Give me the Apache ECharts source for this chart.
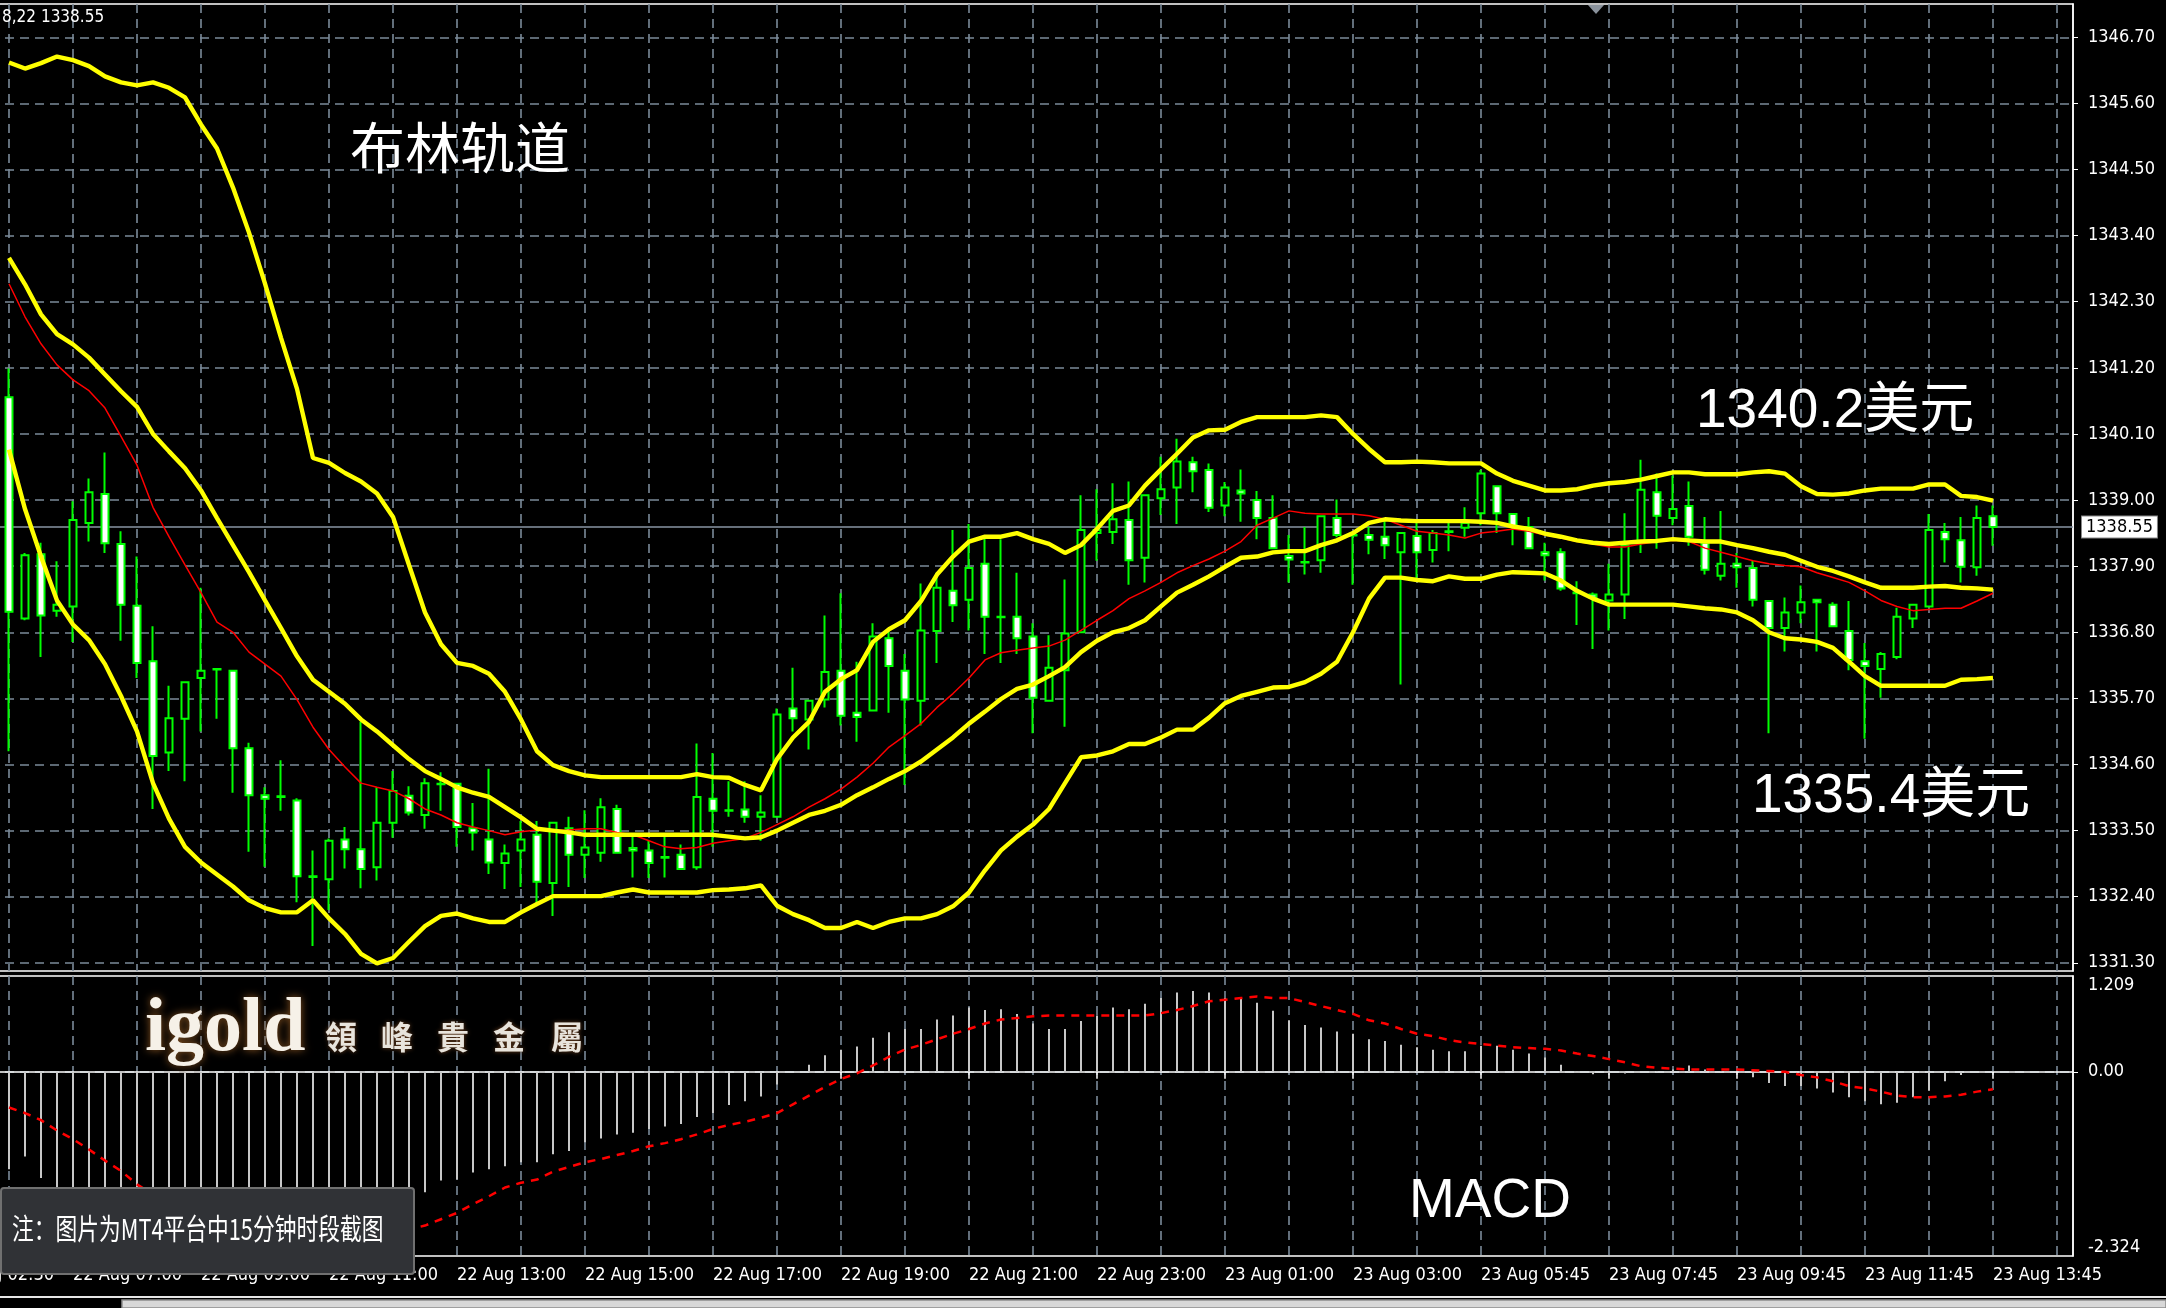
<!DOCTYPE html>
<html><head><meta charset="utf-8">
<script src="https://cdn.jsdelivr.net/npm/echarts@6/dist/echarts.min.js"></script>
<style>html,body{margin:0;padding:0;background:#000;}#c{width:2166px;height:1308px;}</style>
</head><body><div id="c"></div>
<script>
// ---------- data (15-minute bars, 22 Aug 07:00 tick at bar 4, last bar 23 Aug 13:45) ----------
const tickLabels = ['22 Aug 02:30','22 Aug 07:00','22 Aug 09:00','22 Aug 11:00','22 Aug 13:00','22 Aug 15:00','22 Aug 17:00','22 Aug 19:00','22 Aug 21:00','22 Aug 23:00','23 Aug 01:00','23 Aug 03:00','23 Aug 05:45','23 Aug 07:45','23 Aug 09:45','23 Aug 11:45','23 Aug 13:45'];
const priceTicks = [1331.30,1332.40,1333.50,1334.60,1335.70,1336.80,1337.90,1339.00,1340.10,1341.20,1342.30,1343.40,1344.50,1345.60,1346.70];
const macdTicks = [-2.324, 0, 1.209];

const opens = [1340.71,1337.03,1338.10,1337.16,1337.23,1338.62,1339.10,1338.27,1337.24,1336.32,1334.80,1335.36,1336.04,1336.18,1336.16,1334.87,1334.09,1334.07,1334.00,1332.73,1332.69,1333.35,1333.19,1332.89,1333.63,1334.08,1333.76,1334.27,1334.28,1333.54,1333.35,1332.96,1333.17,1333.43,1332.63,1333.54,1333.10,1333.13,1333.86,1333.21,1333.17,1333.06,1333.10,1332.89,1334.03,1333.83,1333.85,1333.73,1333.73,1335.53,1335.35,1335.68,1336.16,1335.46,1335.50,1336.70,1336.16,1335.66,1336.82,1337.49,1337.34,1337.94,1337.06,1337.06,1336.73,1335.66,1336.17,1336.80,1338.45,1338.47,1338.67,1338.04,1339.03,1339.21,1339.63,1339.50,1338.91,1339.16,1339.00,1338.70,1338.07,1337.97,1338.00,1338.70,1338.42,1338.42,1338.39,1338.13,1338.40,1338.17,1338.47,1338.54,1338.78,1339.23,1338.77,1338.55,1338.13,1338.13,1337.46,1337.43,1337.33,1337.43,1338.31,1339.13,1338.70,1338.90,1338.29,1337.74,1337.94,1337.87,1337.32,1336.87,1337.13,1337.34,1337.26,1336.82,1336.32,1336.19,1336.39,1337.03,1337.23,1338.47,1338.33,1337.88,1338.73];
const closes = [1337.14,1338.08,1337.08,1337.26,1338.67,1339.13,1338.28,1337.26,1336.29,1334.74,1335.37,1335.97,1336.16,1336.19,1334.87,1334.09,1334.03,1334.06,1332.74,1332.74,1333.33,1333.19,1332.86,1333.63,1334.16,1333.80,1334.29,1334.28,1333.56,1333.47,1332.97,1333.12,1333.35,1332.65,1333.63,1333.10,1333.22,1333.89,1333.13,1333.17,1332.96,1333.05,1332.86,1334.06,1333.83,1333.84,1333.73,1333.80,1335.43,1335.37,1335.66,1336.14,1335.41,1335.39,1336.73,1336.24,1335.68,1336.83,1337.54,1337.25,1337.87,1337.06,1337.05,1336.70,1335.71,1336.21,1336.78,1338.50,1338.50,1338.68,1338.00,1339.08,1339.18,1339.64,1339.48,1338.87,1339.21,1339.11,1338.70,1338.20,1338.01,1337.96,1338.73,1338.42,1338.41,1338.34,1338.25,1338.45,1338.13,1338.45,1338.48,1338.62,1339.44,1338.78,1338.55,1338.20,1338.08,1337.53,1337.45,1337.38,1337.43,1338.24,1339.17,1338.74,1338.85,1338.39,1337.84,1337.94,1337.88,1337.34,1336.87,1337.13,1337.30,1337.30,1336.90,1336.34,1336.24,1336.44,1337.06,1337.26,1338.50,1338.35,1337.89,1338.70,1338.55];
const lows = [1334.82,1337.00,1336.39,1337.06,1336.64,1338.31,1338.12,1336.66,1336.04,1333.86,1334.49,1334.32,1335.15,1335.36,1334.13,1333.15,1332.90,1333.83,1332.31,1331.58,1332.18,1332.87,1332.54,1332.67,1333.38,1333.75,1333.53,1333.83,1333.23,1333.17,1332.78,1332.53,1332.56,1332.28,1332.08,1332.56,1332.71,1332.98,1333.12,1332.72,1332.71,1332.72,1332.85,1332.85,1333.23,1333.73,1333.63,1333.33,1333.72,1335.15,1334.85,1335.55,1335.25,1334.98,1335.48,1335.46,1334.26,1335.25,1336.29,1336.97,1336.83,1336.44,1336.29,1336.44,1335.12,1335.65,1335.23,1336.79,1337.99,1338.27,1337.59,1337.63,1338.75,1338.60,1339.13,1338.80,1338.73,1338.64,1338.35,1338.19,1337.63,1337.76,1337.79,1338.38,1337.59,1338.10,1338.02,1335.93,1337.69,1337.96,1338.15,1338.39,1338.58,1338.45,1338.25,1338.19,1337.66,1337.49,1336.92,1336.52,1336.83,1337.02,1338.12,1338.19,1338.58,1338.24,1337.76,1337.66,1337.54,1337.23,1335.12,1336.48,1336.95,1336.48,1336.89,1336.17,1335.03,1335.71,1336.35,1336.87,1337.22,1337.96,1337.63,1337.74,1338.24];
const highs = [1341.19,1338.12,1338.29,1337.98,1338.98,1339.36,1339.79,1338.48,1338.06,1336.90,1335.91,1335.97,1337.54,1336.19,1336.16,1334.96,1334.22,1334.67,1334.04,1333.17,1333.37,1333.56,1335.31,1334.22,1334.49,1334.24,1334.37,1334.47,1334.28,1333.96,1334.53,1333.27,1333.66,1333.66,1333.63,1333.73,1333.84,1334.04,1333.93,1333.40,1333.33,1333.40,1333.27,1334.95,1334.79,1334.32,1334.32,1334.09,1335.53,1336.21,1335.66,1337.08,1337.45,1336.31,1336.95,1336.83,1336.44,1337.61,1337.79,1338.50,1338.60,1338.39,1338.35,1337.79,1336.95,1336.75,1337.68,1339.08,1339.18,1339.28,1339.31,1339.08,1339.72,1340.02,1339.72,1339.61,1339.30,1339.51,1339.15,1339.08,1338.42,1338.55,1338.73,1339.01,1338.45,1338.55,1338.65,1338.45,1338.62,1338.50,1338.65,1338.88,1339.50,1339.23,1338.77,1338.72,1338.29,1338.20,1337.65,1337.46,1337.94,1338.78,1339.67,1339.44,1339.41,1339.31,1338.72,1338.82,1338.12,1337.99,1337.32,1337.38,1337.58,1337.34,1337.30,1337.32,1336.62,1336.47,1337.21,1337.27,1338.77,1338.62,1338.72,1338.91,1338.91];

const bollUpper = [1346.28,1346.18,1346.27,1346.38,1346.32,1346.22,1346.05,1345.95,1345.90,1345.95,1345.86,1345.70,1345.25,1344.85,1344.20,1343.45,1342.60,1341.70,1340.85,1339.70,1339.62,1339.45,1339.31,1339.11,1338.72,1337.92,1337.13,1336.60,1336.29,1336.24,1336.11,1335.81,1335.35,1334.82,1334.59,1334.49,1334.42,1334.39,1334.39,1334.39,1334.39,1334.39,1334.39,1334.44,1334.39,1334.38,1334.26,1334.17,1334.69,1335.05,1335.31,1335.81,1336.02,1336.17,1336.64,1336.85,1337.00,1337.32,1337.76,1338.06,1338.31,1338.39,1338.39,1338.45,1338.35,1338.27,1338.12,1338.25,1338.52,1338.82,1338.91,1339.24,1339.51,1339.77,1340.04,1340.16,1340.17,1340.30,1340.38,1340.38,1340.38,1340.38,1340.41,1340.38,1340.10,1339.85,1339.63,1339.63,1339.64,1339.63,1339.61,1339.61,1339.61,1339.44,1339.32,1339.24,1339.16,1339.16,1339.18,1339.24,1339.28,1339.30,1339.34,1339.40,1339.46,1339.46,1339.43,1339.43,1339.43,1339.46,1339.48,1339.44,1339.23,1339.10,1339.09,1339.11,1339.16,1339.19,1339.19,1339.19,1339.26,1339.26,1339.07,1339.05,1338.99];
const bollMiddle = [1343.03,1342.59,1342.09,1341.76,1341.59,1341.37,1341.09,1340.81,1340.55,1340.10,1339.81,1339.53,1339.16,1338.70,1338.25,1337.80,1337.33,1336.87,1336.40,1336.01,1335.81,1335.61,1335.35,1335.15,1334.92,1334.69,1334.49,1334.36,1334.22,1334.13,1334.06,1333.89,1333.72,1333.53,1333.50,1333.47,1333.43,1333.43,1333.43,1333.43,1333.43,1333.43,1333.43,1333.43,1333.43,1333.40,1333.37,1333.39,1333.50,1333.63,1333.76,1333.83,1333.93,1334.09,1334.22,1334.36,1334.49,1334.65,1334.85,1335.05,1335.28,1335.48,1335.69,1335.86,1335.93,1336.07,1336.22,1336.47,1336.66,1336.80,1336.87,1337.00,1337.23,1337.46,1337.59,1337.73,1337.89,1338.04,1338.06,1338.13,1338.15,1338.15,1338.25,1338.33,1338.45,1338.62,1338.68,1338.66,1338.65,1338.65,1338.65,1338.65,1338.64,1338.62,1338.56,1338.52,1338.44,1338.39,1338.33,1338.29,1338.27,1338.29,1338.31,1338.32,1338.35,1338.33,1338.31,1338.31,1338.25,1338.20,1338.14,1338.09,1337.99,1337.89,1337.82,1337.73,1337.63,1337.54,1337.54,1337.54,1337.56,1337.57,1337.54,1337.53,1337.51];
const bollLower = [1339.84,1338.85,1338.06,1337.33,1336.93,1336.67,1336.27,1335.74,1335.15,1334.29,1333.70,1333.23,1332.97,1332.77,1332.57,1332.34,1332.21,1332.14,1332.14,1332.34,1332.04,1331.78,1331.45,1331.29,1331.38,1331.65,1331.91,1332.08,1332.12,1332.04,1331.98,1331.98,1332.14,1332.28,1332.41,1332.41,1332.41,1332.41,1332.47,1332.52,1332.47,1332.47,1332.47,1332.47,1332.51,1332.52,1332.54,1332.59,1332.25,1332.11,1332.01,1331.88,1331.88,1331.98,1331.88,1331.98,1332.04,1332.04,1332.11,1332.24,1332.47,1332.84,1333.17,1333.40,1333.60,1333.86,1334.29,1334.72,1334.75,1334.82,1334.94,1334.94,1335.05,1335.18,1335.18,1335.38,1335.62,1335.74,1335.81,1335.88,1335.89,1335.97,1336.11,1336.31,1336.80,1337.36,1337.71,1337.71,1337.67,1337.65,1337.73,1337.69,1337.69,1337.76,1337.80,1337.79,1337.78,1337.66,1337.49,1337.36,1337.26,1337.26,1337.26,1337.26,1337.26,1337.23,1337.20,1337.18,1337.13,1337.00,1336.80,1336.70,1336.68,1336.64,1336.54,1336.31,1336.07,1335.91,1335.91,1335.91,1335.91,1335.91,1336.01,1336.02,1336.04];
const redMA = [1342.60,1342.05,1341.60,1341.25,1341.00,1340.82,1340.53,1340.06,1339.58,1338.88,1338.39,1337.92,1337.46,1336.97,1336.80,1336.47,1336.27,1336.07,1335.68,1335.22,1334.85,1334.56,1334.29,1334.22,1334.16,1334.03,1333.86,1333.76,1333.63,1333.56,1333.50,1333.43,1333.48,1333.51,1333.50,1333.51,1333.53,1333.53,1333.47,1333.43,1333.33,1333.23,1333.20,1333.22,1333.29,1333.33,1333.37,1333.47,1333.60,1333.73,1333.89,1334.03,1334.19,1334.39,1334.62,1334.89,1335.08,1335.28,1335.55,1335.78,1336.04,1336.34,1336.46,1336.50,1336.54,1336.57,1336.67,1336.83,1337.00,1337.16,1337.36,1337.49,1337.63,1337.79,1337.91,1338.02,1338.15,1338.31,1338.58,1338.70,1338.82,1338.78,1338.77,1338.77,1338.77,1338.74,1338.68,1338.58,1338.48,1338.45,1338.42,1338.37,1338.45,1338.48,1338.52,1338.48,1338.42,1338.37,1338.31,1338.27,1338.22,1338.22,1338.27,1338.31,1338.33,1338.31,1338.20,1338.13,1338.06,1337.99,1337.94,1337.91,1337.89,1337.79,1337.71,1337.63,1337.49,1337.33,1337.23,1337.16,1337.18,1337.20,1337.20,1337.32,1337.45];

const macdHist = [-1.23,-1.07,-1.34,-1.58,-1.62,-1.68,-1.80,-1.92,-2.02,-2.15,-2.20,-2.24,-2.26,-2.27,-2.26,-2.24,-2.20,-2.16,-2.14,-2.10,-2.02,-1.94,-1.87,-1.78,-1.70,-1.62,-1.52,-1.37,-1.36,-1.27,-1.23,-1.19,-1.14,-1.14,-1.04,-1.00,-0.89,-0.84,-0.79,-0.77,-0.72,-0.69,-0.66,-0.57,-0.52,-0.42,-0.37,-0.31,-0.16,0.00,0.09,0.21,0.28,0.32,0.43,0.50,0.54,0.54,0.66,0.71,0.81,0.78,0.79,0.73,0.61,0.54,0.54,0.64,0.71,0.81,0.79,0.86,0.93,1.00,1.02,1.00,0.93,0.93,0.87,0.77,0.65,0.59,0.56,0.51,0.48,0.41,0.39,0.34,0.31,0.28,0.26,0.26,0.33,0.33,0.28,0.23,0.18,0.09,0.01,-0.03,-0.02,-0.02,0.00,0.01,0.03,0.08,0.03,0.01,0.00,-0.07,-0.14,-0.18,-0.18,-0.21,-0.26,-0.32,-0.37,-0.41,-0.39,-0.32,-0.24,-0.12,-0.04,0.00,0.01];
const macdSignal = [-0.45,-0.52,-0.61,-0.74,-0.85,-0.98,-1.12,-1.25,-1.42,-1.55,-1.67,-1.78,-1.88,-1.97,-2.05,-2.12,-2.17,-2.20,-2.22,-2.21,-2.19,-2.16,-2.12,-2.07,-2.02,-1.99,-1.94,-1.86,-1.78,-1.67,-1.57,-1.46,-1.40,-1.36,-1.26,-1.20,-1.14,-1.10,-1.05,-1.00,-0.94,-0.90,-0.85,-0.79,-0.72,-0.67,-0.63,-0.58,-0.52,-0.41,-0.30,-0.19,-0.09,-0.02,0.08,0.19,0.28,0.34,0.41,0.48,0.54,0.61,0.66,0.68,0.70,0.71,0.71,0.71,0.71,0.71,0.71,0.71,0.74,0.78,0.83,0.89,0.91,0.93,0.95,0.93,0.93,0.88,0.83,0.78,0.73,0.65,0.61,0.54,0.48,0.45,0.40,0.37,0.35,0.33,0.31,0.30,0.29,0.27,0.23,0.20,0.16,0.12,0.07,0.05,0.04,0.03,0.03,0.03,0.03,0.02,0.01,0.00,-0.04,-0.07,-0.12,-0.18,-0.21,-0.25,-0.30,-0.32,-0.32,-0.31,-0.29,-0.25,-0.22];

// ---------- build ----------
const LEAD = 4, TAIL = 5;
const N = LEAD + opens.length + TAIL;
const categories = [];
for (let k = 0; k < N; k++) categories.push('c' + k);
const isLabel = (i) => i % 8 === 0;
const isGrid = (i) => i % 4 === 0;
const xy = (arr) => arr.map((v, i) => [i + LEAD, v]);
const candleData = opens.map((o, i) => [i + LEAD, o, closes[i], lows[i], highs[i]]);
const lastPrice = closes[closes.length - 1];

const NARROW = '"Liberation Sans Narrow","DejaVu Sans Condensed","Liberation Sans",sans-serif';
const gridLine = { color: '#7b8a99', type: [9, 6], width: 1.6 };
const STEP = 16;
const LEFT = 9 - LEAD * STEP;
const WIDTH = STEP * (N - 1);

const chart = echarts.init(document.getElementById('c'), null, { renderer: 'canvas' });
chart.setOption({
  animation: false,
  backgroundColor: '#000',
  grid: [
    { left: LEFT, top: 4, width: WIDTH, height: 967, outerBoundsMode: 'none', containLabel: false, show: true, borderColor: '#fff', borderWidth: 1.5, backgroundColor: 'transparent' },
    { left: LEFT, top: 976, width: WIDTH, height: 280, outerBoundsMode: 'none', containLabel: false, show: true, borderColor: '#fff', borderWidth: 1.5, backgroundColor: 'transparent' }
  ],
  xAxis: [
    { type: 'category', gridIndex: 0, data: categories, boundaryGap: false,
      axisLine: { show: false }, axisTick: { show: false }, axisLabel: { show: false },
      splitLine: { show: true, interval: isGrid, lineStyle: gridLine } },
    { type: 'category', gridIndex: 1, data: categories, boundaryGap: false,
      axisLine: { show: true, lineStyle: { color: '#fff', width: 1.5 } },
      axisTick: { show: true, interval: isLabel, length: 7, lineStyle: { color: '#fff', width: 1.5 } },
      axisLabel: { show: true, interval: isLabel, align: 'left', margin: 10, color: '#fff', fontSize: 18, fontFamily: NARROW, hideOverlap: false,
        formatter: (v, idx) => (idx % 8 === 0 ? (tickLabels[idx / 8] || '') : '') },
      splitLine: { show: true, interval: isGrid, lineStyle: gridLine } }
  ],
  yAxis: [
    { type: 'value', gridIndex: 0, position: 'right', min: 1331.164, max: 1347.254, scale: true,
      axisLine: { show: true, lineStyle: { color: '#fff', width: 1.5 } },
      axisTick: { show: true, customValues: priceTicks, length: 5, lineStyle: { color: '#fff' } },
      axisLabel: { show: true, customValues: priceTicks, margin: 15, color: '#fff', fontSize: 18, fontFamily: NARROW,
        formatter: (v) => Number(v).toFixed(2) },
      splitLine: { show: true, lineStyle: gridLine } },
    { type: 'value', gridIndex: 1, position: 'right', min: -2.324, max: 1.209,
      axisLine: { show: true, lineStyle: { color: '#fff', width: 1.5 } },
      axisTick: { show: true, customValues: [0], length: 5, lineStyle: { color: '#fff' } },
      axisLabel: { show: true, customValues: macdTicks, margin: 15, color: '#fff', fontSize: 18, fontFamily: NARROW,
        verticalAlignMinLabel: 'bottom', verticalAlignMaxLabel: 'top',
        formatter: (v) => (Math.abs(v) < 1e-9 ? '0.00' : String(Number(v).toFixed(3))) },
      splitLine: { show: true, lineStyle: gridLine } }
  ],
  series: [
    { type: 'candlestick', xAxisIndex: 0, yAxisIndex: 0, data: candleData, encode: { x: 0, y: [1, 2, 3, 4] },
      barWidth: 8, z: 2,
      itemStyle: { color: '#000000', color0: '#ffffff', borderColor: '#00ff00', borderColor0: '#00ff00', borderColorDoji: '#00ff00', borderWidth: 2 },
      markLine: { silent: true, symbol: 'none', z: 1,
        lineStyle: { color: '#8895a3', type: 'solid', width: 1.5 },
        label: { show: true, position: 'end', distance: 9, formatter: () => lastPrice.toFixed(2),
          color: '#000', backgroundColor: '#fff', borderColor: '#888', borderWidth: 1, padding: [2, 4, 1, 4],
          fontSize: 18, fontFamily: NARROW },
        data: [{ yAxis: lastPrice }] } },
    { type: 'line', name: 'MA', xAxisIndex: 0, yAxisIndex: 0, data: xy(redMA), showSymbol: false, symbol: 'none', z: 3,
      lineStyle: { color: '#ff0000', width: 1.5 } },
    { type: 'line', name: 'upper', xAxisIndex: 0, yAxisIndex: 0, data: xy(bollUpper), symbol: 'none', z: 4,
      lineStyle: { color: '#ffff00', width: 4.4 } },
    { type: 'line', name: 'middle', xAxisIndex: 0, yAxisIndex: 0, data: xy(bollMiddle), symbol: 'none', z: 4,
      lineStyle: { color: '#ffff00', width: 4.4 } },
    { type: 'line', name: 'lower', xAxisIndex: 0, yAxisIndex: 0, data: xy(bollLower), symbol: 'none', z: 4,
      lineStyle: { color: '#ffff00', width: 4.4 } },
    { type: 'bar', name: 'MACD', xAxisIndex: 1, yAxisIndex: 1, data: xy(macdHist), barWidth: 2,
      itemStyle: { color: '#c8c8c8' }, z: 2 },
    { type: 'line', name: 'Signal', xAxisIndex: 1, yAxisIndex: 1, data: xy(macdSignal), symbol: 'none', z: 3,
      lineStyle: { color: '#ff0000', width: 2.5, type: [8, 7] } }
  ],
  graphic: [
    { type: 'text', x: 2, y: 18, z: 50, style: { text: '8,22 1338.55', fill: '#fff', fontSize: 17, fontFamily: NARROW, verticalAlign: 'middle' } },
    { type: 'polygon', z: 50, shape: { points: [[1588, 5], [1604, 5], [1596, 14]] }, style: { fill: '#8a929c' } },
    { type: 'text', x: 350, y: 147, z: 50, style: { text: '布林轨道', fill: '#fff', fontSize: 55, fontFamily: '"Noto Sans CJK SC"', verticalAlign: 'middle' } },
    { type: 'text', x: 1696, y: 412, z: 50, style: { text: '1340.2美元', fill: '#fff', fontSize: 55, fontFamily: '"Liberation Sans","Noto Sans CJK SC"', verticalAlign: 'middle' } },
    { type: 'text', x: 1752, y: 797, z: 50, style: { text: '1335.4美元', fill: '#fff', fontSize: 55, fontFamily: '"Liberation Sans","Noto Sans CJK SC"', verticalAlign: 'middle' } },
    { type: 'text', x: 1409, y: 1202, z: 50, style: { text: 'MACD', fill: '#fff', fontSize: 55, fontFamily: '"Liberation Sans"', verticalAlign: 'middle' } },
    { type: 'text', x: 145, y: 1030, z: 50, style: { text: 'igold', fill: '#f6f1e8', fontSize: 76, fontWeight: 'bold', fontFamily: '"Liberation Serif","DejaVu Serif",serif', verticalAlign: 'middle', textShadowColor: '#8a5522', textShadowBlur: 8 } },
    { type: 'text', x: 325, y: 1037, z: 50, style: { text: '領', fill: '#e8e4dc', fontSize: 32, fontWeight: 'bold', fontFamily: '"Noto Sans CJK TC"', verticalAlign: 'middle', textShadowColor: '#6b4020', textShadowBlur: 4 } },
    { type: 'text', x: 381, y: 1037, z: 50, style: { text: '峰', fill: '#e8e4dc', fontSize: 32, fontWeight: 'bold', fontFamily: '"Noto Sans CJK TC"', verticalAlign: 'middle', textShadowColor: '#6b4020', textShadowBlur: 4 } },
    { type: 'text', x: 437, y: 1037, z: 50, style: { text: '貴', fill: '#e8e4dc', fontSize: 32, fontWeight: 'bold', fontFamily: '"Noto Sans CJK TC"', verticalAlign: 'middle', textShadowColor: '#6b4020', textShadowBlur: 4 } },
    { type: 'text', x: 493, y: 1037, z: 50, style: { text: '金', fill: '#e8e4dc', fontSize: 32, fontWeight: 'bold', fontFamily: '"Noto Sans CJK TC"', verticalAlign: 'middle', textShadowColor: '#6b4020', textShadowBlur: 4 } },
    { type: 'text', x: 551, y: 1037, z: 50, style: { text: '屬', fill: '#e8e4dc', fontSize: 32, fontWeight: 'bold', fontFamily: '"Noto Sans CJK TC"', verticalAlign: 'middle', textShadowColor: '#6b4020', textShadowBlur: 4 } },
    { type: 'rect', z: 60, shape: { x: 1, y: 1188, width: 413, height: 86, r: 3 }, style: { fill: '#303236', stroke: '#707070', lineWidth: 2 } },
    { type: 'text', x: 12, y: 1229, z: 61, scaleX: 0.75, style: { text: '注：图片为MT4平台中15分钟时段截图', fill: '#fff', fontSize: 29, fontFamily: '"Noto Sans CJK SC"', verticalAlign: 'middle' } },
    { type: 'rect', z: 60, shape: { x: 0, y: 1296, width: 2166, height: 2 }, style: { fill: '#e6e6e6' } },
    { type: 'rect', z: 60, shape: { x: 122, y: 1300, width: 2044, height: 8 }, style: { fill: '#d8d8d8', stroke: '#8c8c8c', lineWidth: 1.5 } }
  ]
});
</script>
</body></html>
